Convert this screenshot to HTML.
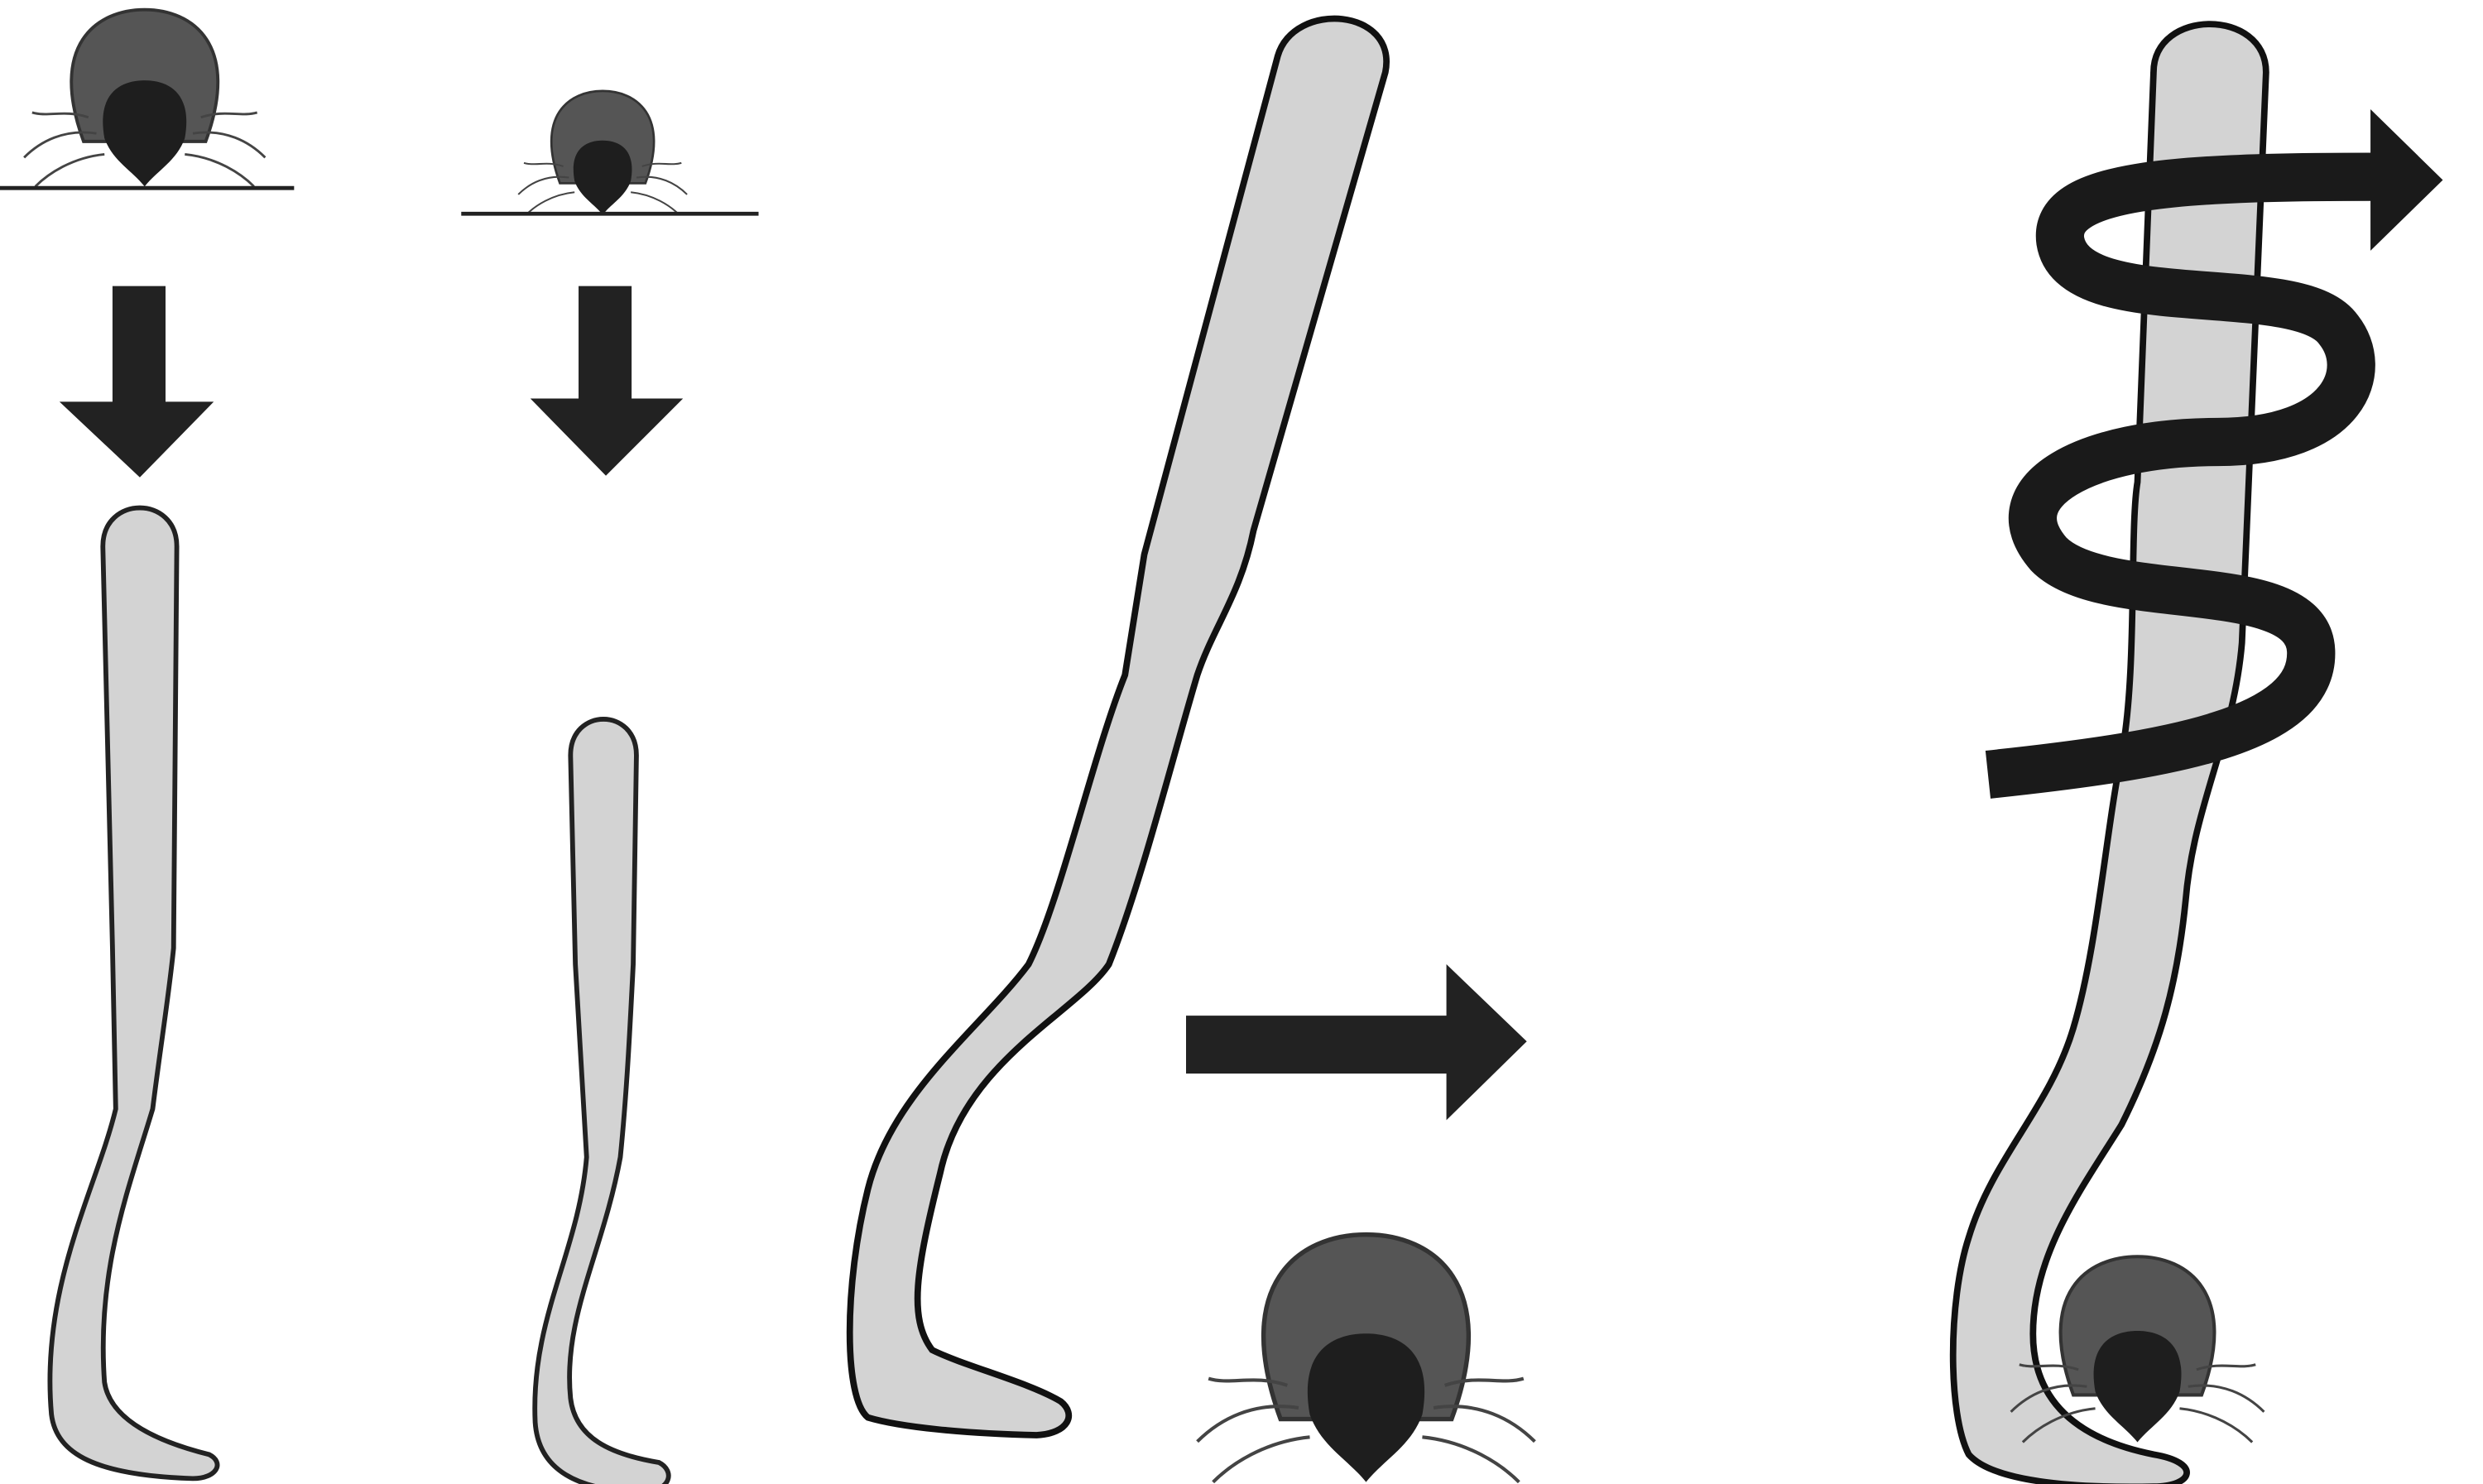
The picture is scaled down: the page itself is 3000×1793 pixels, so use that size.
<!DOCTYPE html>
<html><head><style>html,body{margin:0;padding:0;background:#fff}svg{display:block}</style></head>
<body>
<svg width="3000" height="1793" viewBox="0 0 1545 923.4" preserveAspectRatio="none" xmlns="http://www.w3.org/2000/svg">
<defs>
<g id="tick">
  <path d="M-38,20 C-60,-40 -30,-62 0,-62 C30,-62 60,-40 38,20 Z" fill="#555" stroke="#333" stroke-width="2"/>
  <path d="M-25,18 C-30,-10 -15,-18 0,-18 C15,-18 30,-10 25,18 C20,32 8,38 0,48 C-8,38 -20,32 -25,18 Z" fill="#1e1e1e"/>
  <g fill="none" stroke="#444" stroke-width="1.5">
    <path d="M-35,5 C-50,0 -60,5 -70,2"/><path d="M35,5 C50,0 60,5 70,2"/>
    <path d="M-30,15 C-50,12 -65,20 -75,30"/><path d="M30,15 C50,12 65,20 75,30"/>
    <path d="M-25,28 C-45,30 -60,40 -68,48"/><path d="M25,28 C45,30 60,40 68,48"/>
  </g>
</g>
</defs>
<!-- ticks -->
<g transform="translate(90,68) scale(1.0)"><use href="#tick"/></g>
<line x1="0" y1="117" x2="183" y2="117" stroke="#222" stroke-width="2.5"/>
<g transform="translate(375,100) scale(0.7)"><use href="#tick"/></g>
<line x1="287" y1="133" x2="472" y2="133" stroke="#222" stroke-width="2.5"/>
<!-- down arrows -->
<path d="M70,178 H103 V250 H133 L87,297 L37,250 H70 Z" fill="#222"/>
<path d="M360,178 H393 V248 H425 L377,296 L330,248 H360 Z" fill="#222"/>
<!-- hook 1 -->
<path d="M64,340 C64,308 110,308 110,340 L108,590 C105,620 100,650 95,690 C80,740 60,790 65,860 C68,880 90,895 130,905 C140,910 135,920 120,920 C60,918 35,905 32,880 C25,800 60,740 72,690 L70,590 Z" fill="#d3d3d3" stroke="#222" stroke-width="3"/>
<!-- hook 2 -->
<path d="M355,470 C355,440 396,440 396,470 L394,600 C392,640 390,680 386,720 C375,780 350,820 355,870 C358,895 380,905 410,910 C420,915 418,928 400,928 C360,928 335,915 333,885 C330,820 360,780 365,720 L358,600 Z" fill="#d3d3d3" stroke="#222" stroke-width="3"/>
<!-- big tilted hook -->
<path d="M795,35 C805,0 870,5 862,45 L780,330 C772,370 755,390 745,420 C730,470 710,550 690,600 C670,630 600,660 585,730 C570,790 565,820 580,840 C600,850 640,860 660,872 C670,880 665,892 645,893 C600,892 560,888 540,882 C525,870 525,800 540,740 C555,680 610,640 640,600 C660,560 680,470 700,420 L712,345 Z" fill="#d3d3d3" stroke="#111" stroke-width="4"/>
<!-- right arrow -->
<path d="M738,632 H900 V600 L950,648 L900,697 V668 H738 Z" fill="#222"/>
<g transform="translate(850,855) scale(1.4)"><use href="#tick"/></g>
<line x1="570" y1="925" x2="1017" y2="925" stroke="#222" stroke-width="2.5"/>
<!-- right panel hook -->
<path d="M1340,45 C1340,5 1410,5 1410,45 L1395,400 C1390,460 1365,500 1360,560 C1355,610 1345,650 1320,700 C1295,740 1265,780 1265,830 C1265,870 1290,895 1340,905 C1370,910 1365,925 1340,925 C1290,926 1240,922 1225,905 C1212,880 1212,810 1225,770 C1240,720 1275,690 1290,640 C1305,590 1310,520 1320,470 C1330,420 1325,330 1330,300 Z" fill="#d3d3d3" stroke="#111" stroke-width="4"/>
<g transform="translate(1330,847) scale(1.05)"><use href="#tick"/></g>
<line x1="1083" y1="925" x2="1530" y2="925" stroke="#222" stroke-width="2.5"/>
<!-- spiral -->
<path d="M1237,482 C1350,470 1440,455 1438,405 C1436,355 1310,380 1275,345 C1240,305 1300,275 1380,275 C1460,275 1475,230 1455,205 C1430,170 1290,200 1282,150 C1277,115 1350,110 1480,110" fill="none" stroke="#1a1a1a" stroke-width="30"/>
<path d="M1475,68 L1520,112 L1475,156 Z" fill="#1a1a1a"/>
</svg>
</body></html>
